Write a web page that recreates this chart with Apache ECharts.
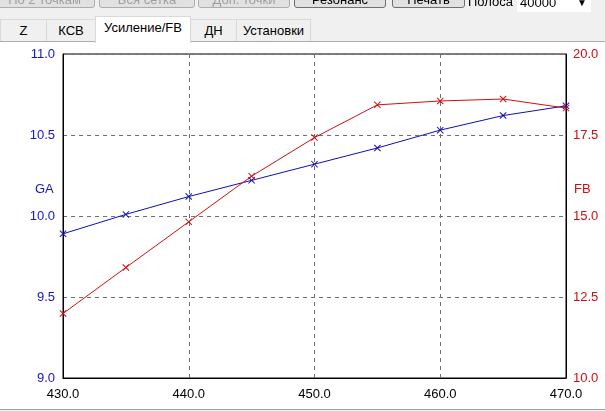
<!DOCTYPE html>
<html>
<head>
<meta charset="utf-8">
<script src="https://cdn.jsdelivr.net/npm/echarts@6/dist/echarts.min.js"></script>
<style>
html,body{margin:0;padding:0;width:605px;height:411px;overflow:hidden;background:#f0f0f0;font-family:"Liberation Sans",Arial,sans-serif;}
#white{position:absolute;left:0;top:41px;width:605px;height:367px;background:#fff;border-top:1px solid #adadad;border-bottom:1px solid #a0a0a0;}
#chart{position:absolute;left:0;top:0;width:605px;height:411px;z-index:1;}
.btn{position:absolute;top:-14px;height:22px;line-height:26px;text-align:center;font-size:13px;border:1px solid #adadad;border-radius:3px;background:#e1e1e1;color:#a0a0a0;box-sizing:border-box;z-index:2;}
.btn.on{border-color:#707070;color:#000;}
.tab{position:absolute;top:19px;height:22px;line-height:22px;font-size:13px;text-align:center;background:#f0f0f0;border:1px solid #d9d9d9;border-bottom:none;box-sizing:border-box;z-index:2;color:#000;}
.tab.sel{top:16px;height:27px;line-height:22px;background:#fff;border-color:#d9d9d9;}
#lbl{position:absolute;left:468px;top:-6px;font-size:13px;z-index:2;}
#combo{position:absolute;left:517px;top:-6px;width:74px;height:18px;background:#fff;font-size:13px;line-height:18px;padding-left:3px;box-sizing:border-box;z-index:2;}
#combo span{position:absolute;right:4px;top:0;font-size:10px;}
</style>
</head>
<body>
<div id="white"></div>
<div class="btn" style="left:-6px;width:101px;">По 2 точкам</div>
<div class="btn" style="left:99px;width:96px;">Вся сетка</div>
<div class="btn" style="left:198px;width:92px;">Доп. точки</div>
<div class="btn on" style="left:294px;width:92px;">Резонанс</div>
<div class="btn on" style="left:392px;width:73px;">Печать</div>
<div id="lbl">Полоса</div>
<div id="combo">40000<span>▼</span></div>
<div class="tab" style="left:0;width:47px;">Z</div>
<div class="tab" style="left:46px;width:50px;">КСВ</div>
<div class="tab sel" style="left:95px;width:96px;">Усиление/FB</div>
<div class="tab" style="left:190px;width:47px;">ДН</div>
<div class="tab" style="left:236px;width:75px;">Установки</div>
<div id="chart"></div>
<script>
const freqs = [430, 435, 440, 445, 450, 455, 460, 465, 470];
const gaValues = [9.89, 10.01, 10.12, 10.22, 10.32, 10.42, 10.53, 10.62, 10.68];
const fbValues = [11.99, 13.41, 14.82, 16.23, 17.42, 18.43, 18.55, 18.61, 18.33];
const leftAxisName = 'GA';
const rightAxisName = 'FB';

const crossSym = 'path://M0,1L1,0L5,4L9,0L10,1L6,5L10,9L9,10L5,6L1,10L0,9L4,5Z';
const blue = '#1010b0';
const blueText = '#1515c8';
const red = '#cc1010';
const fontFam = '"Liberation Sans", Arial, sans-serif';

const chart = echarts.init(document.getElementById('chart'), null, {renderer: 'canvas'});
chart.setOption({
  animation: false,
  backgroundColor: 'transparent',
  grid: {left: 63, top: 54, width: 503, height: 324, show: true, borderColor: '#000', borderWidth: 1, backgroundColor: 'transparent'},
  xAxis: {
    type: 'value', min: 430, max: 470, interval: 10,
    axisLine: {show: true, lineStyle: {color: '#000'}},
    axisTick: {show: false},
    axisLabel: {color: '#000', fontSize: 13, fontFamily: fontFam, margin: 10, formatter: v => v.toFixed(1)},
    splitLine: {show: true, lineStyle: {color: '#707070', type: [4, 4], width: 1}}
  },
  yAxis: [{
    type: 'value', min: 9, max: 11, interval: 0.5, position: 'left',
    axisLine: {show: true, lineStyle: {color: '#000'}},
    axisTick: {show: false},
    axisLabel: {color: blueText, fontSize: 13, fontFamily: fontFam, margin: 8, formatter: v => v.toFixed(1)},
    splitLine: {show: true, lineStyle: {color: '#707070', type: [4, 4], width: 1}}
  }, {
    type: 'value', min: 10, max: 20, interval: 2.5, position: 'right',
    axisLine: {show: true, lineStyle: {color: '#000'}},
    axisTick: {show: false},
    axisLabel: {color: red, fontSize: 13, fontFamily: fontFam, margin: 7, formatter: v => v.toFixed(1)},
    splitLine: {show: false}
  }],
  graphic: [
    {type: 'text', left: 35, top: 183, style: {text: leftAxisName, fill: blueText, font: '13px ' + fontFam}},
    {type: 'text', left: 574, top: 183, style: {text: rightAxisName, fill: red, font: '13px ' + fontFam}}
  ],
  series: [{
    type: 'line', yAxisIndex: 0,
    data: freqs.map((f, i) => [f, gaValues[i]]),
    lineStyle: {color: blue, width: 1},
    itemStyle: {color: blue},
    symbol: crossSym, symbolSize: 7, showSymbol: true
  }, {
    type: 'line', yAxisIndex: 1,
    data: freqs.map((f, i) => [f, fbValues[i]]),
    lineStyle: {color: red, width: 1},
    itemStyle: {color: red},
    symbol: crossSym, symbolSize: 7, showSymbol: true
  }]
});
</script>
</body>
</html>
